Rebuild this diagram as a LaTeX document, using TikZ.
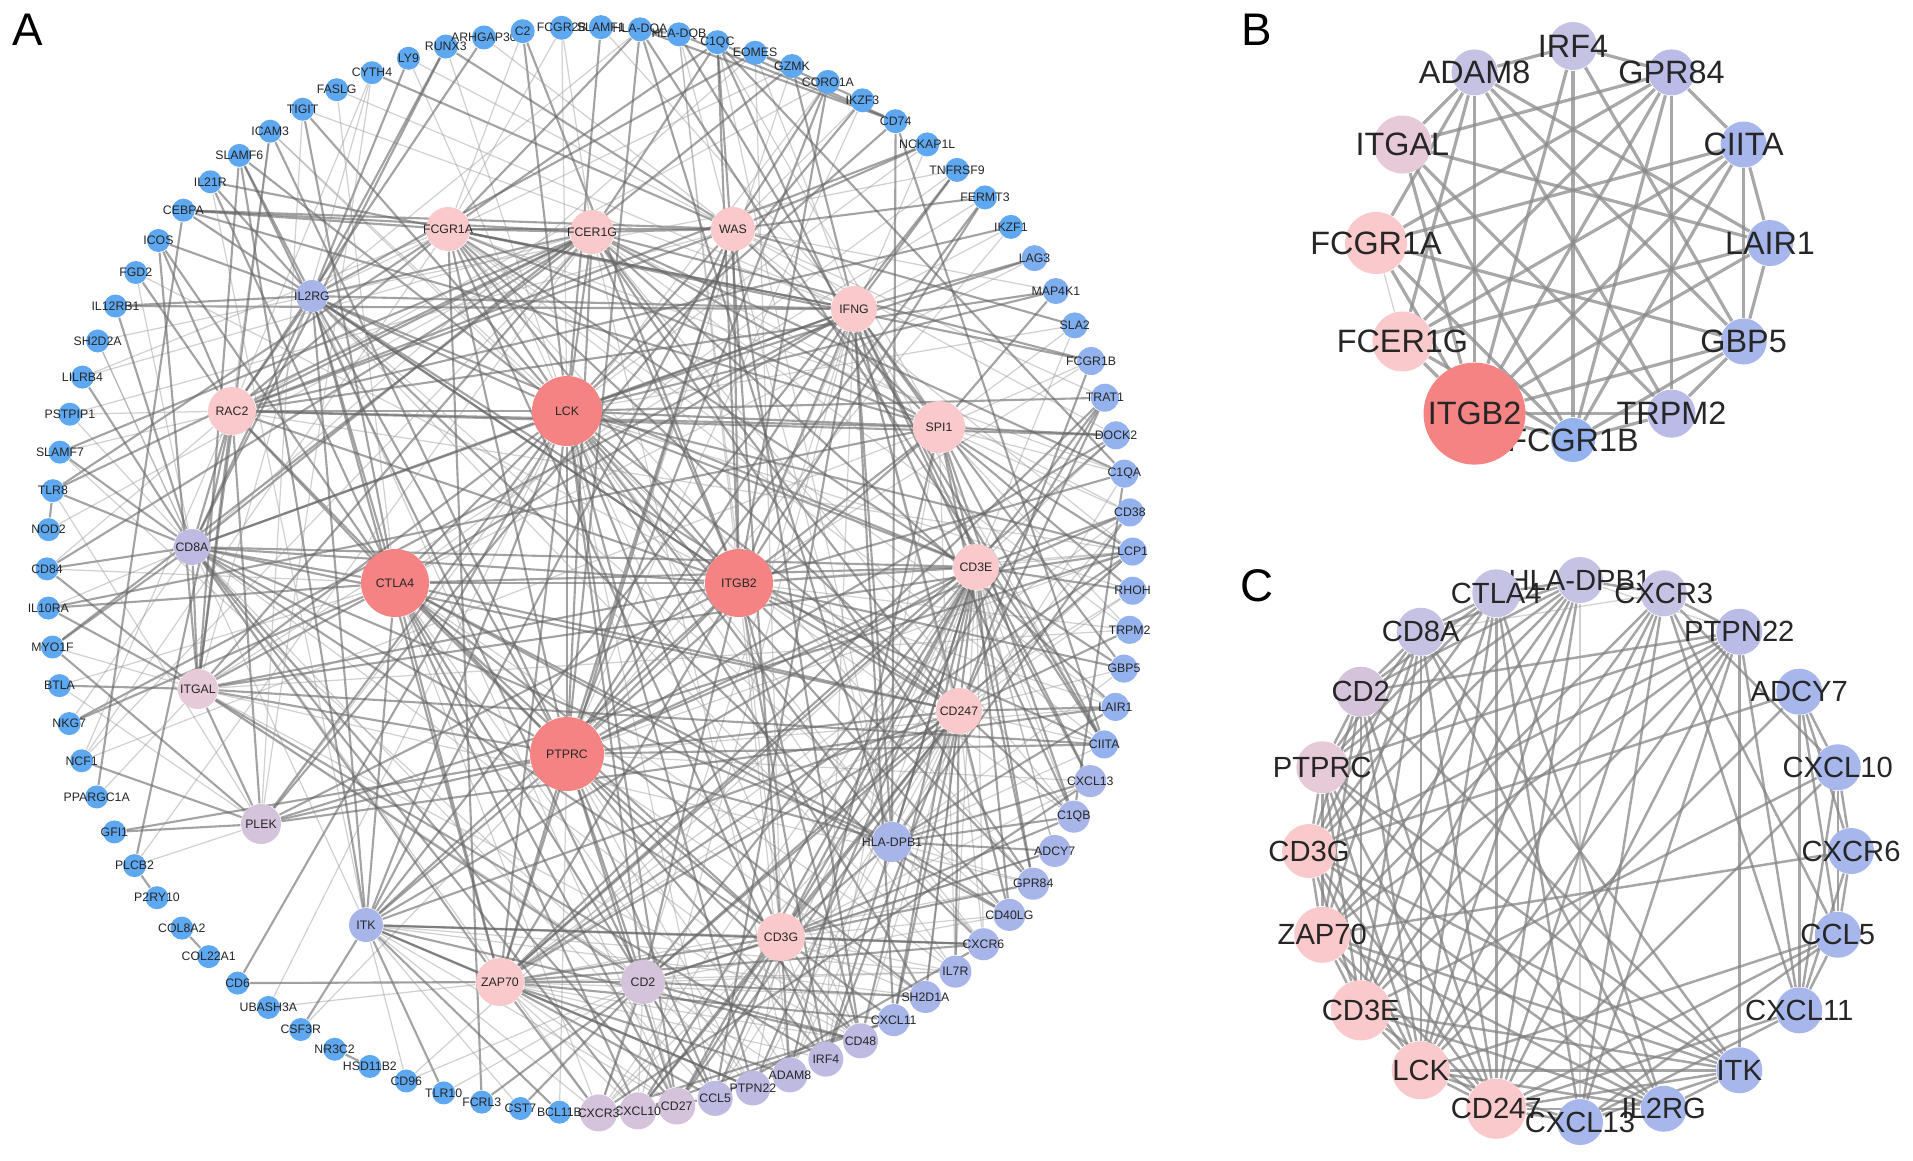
\documentclass[tikz,border=0pt]{standalone}
\usepackage{fontspec}
\setmainfont{Liberation Sans}
\usepackage{tikz}
\usetikzlibrary{positioning,calc}
\pgfdeclarelayer{bg}
\pgfsetlayers{bg,main}

\definecolor{blueA}{HTML}{5EA8F2}
\definecolor{blueB}{HTML}{7DAEF0}
\definecolor{blueM}{HTML}{94B2EE}
\definecolor{periA}{HTML}{A8B5E9}
\definecolor{periB}{HTML}{A8B7EB}
\definecolor{periL}{HTML}{BABCE7}
\definecolor{lavA}{HTML}{BEBAE2}
\definecolor{lavB}{HTML}{C5C2E3}
\definecolor{lilacA}{HTML}{D5C3DB}
\definecolor{mauveA}{HTML}{E7CAD7}
\definecolor{pinkA}{HTML}{F9C9CB}
\definecolor{hubred}{HTML}{F58383}

\newcommand{\fsA}{\fontsize{3.5pt}{4pt}\selectfont}
\newcommand{\fsB}{\fontsize{9.2pt}{10pt}\selectfont}
\newcommand{\fsC}{\fontsize{8.3pt}{9pt}\selectfont}
\newcommand{\fsP}{\fontsize{13pt}{15pt}\selectfont}

\tikzset{
  gene/.style={circle, draw=none, inner sep=0pt},
  lnk/.style={draw=black!60, line width=0.6pt, opacity=0.6},
  faint/.style={draw=black!40, line width=0.35pt, opacity=0.45},
  lnkB/.style={draw=black!45, line width=0.9pt, opacity=0.75},
  lnkC/.style={draw=black!50, line width=0.7pt, opacity=0.7},
  onringA/.style={at={({590+543*cos(105.4-(#1-1)*4.138)},{570-543*sin(105.4-(#1-1)*4.138)})}},
  onringB/.style={at={({1573+197*cos(#1)},{243-197*sin(#1)})}},
  onringC/.style={at={({1580+271*cos(#1)},{851-271*sin(#1)})}},
}

\begin{document}
\begin{tikzpicture}[x=0.01cm, y=-0.01cm, every label/.append style={text=black!85, inner sep=0pt}]
\useasboundingbox (0,0) rectangle (1913,1160);

% panel letters
\node[font=\fsP] (pA) at (28,30) {A};
\node[font=\fsP] (pB) at (1257,30) {B};
\node[font=\fsP] (pC) at (1257,586) {C};

% A: outer ring
\foreach \nm [count=\i from 1] in {RUNX3,ARHGAP30,C2,FCGR2B,SLAMF1,HLA-DQA,HLA-DQB,C1QC,EOMES,GZMK,CORO1A,IKZF3,CD74,NCKAP1L,TNFRSF9,FERMT3,IKZF1}
  \node[gene, fill=blueA, minimum size=0.24cm, onringA=\i, label={[font=\fsA]center:\nm}] (a\nm) {};
\foreach \nm [count=\i from 18] in {LAG3,MAP4K1,SLA2}
  \node[gene, fill=blueB, minimum size=0.26cm, onringA=\i, label={[font=\fsA]center:\nm}] (a\nm) {};
\foreach \nm [count=\i from 21] in {FCGR1B,TRAT1,DOCK2,C1QA,CD38,LCP1,RHOH,TRPM2,GBP5,LAIR1,CIITA}
  \node[gene, fill=blueM, minimum size=0.28cm, onringA=\i, label={[font=\fsA]center:\nm}] (a\nm) {};
\foreach \nm [count=\i from 32] in {CXCL13,C1QB,ADCY7,GPR84,CD40LG,CXCR6,IL7R,SH2D1A,CXCL11}
  \node[gene, fill=periA, minimum size=0.32cm, onringA=\i, label={[font=\fsA]center:\nm}] (a\nm) {};
\foreach \nm [count=\i from 41] in {CD48,IRF4,ADAM8,PTPN22,CCL5}
  \node[gene, fill=lavA, minimum size=0.35cm, onringA=\i, label={[font=\fsA]center:\nm}] (a\nm) {};
\foreach \nm [count=\i from 46] in {CD27,CXCL10,CXCR3}
  \node[gene, fill=lilacA, minimum size=0.37cm, onringA=\i, label={[font=\fsA]center:\nm}] (a\nm) {};
\foreach \nm [count=\i from 49] in {BCL11B,CST7,FCRL3,TLR10,CD96,HSD11B2,NR3C2,CSF3R,UBASH3A,CD6,COL22A1,COL8A2,P2RY10,PLCB2,GFI1,PPARGC1A,NCF1,NKG7,BTLA,MYO1F,IL10RA,CD84,NOD2,TLR8,SLAMF7,PSTPIP1,LILRB4,SH2D2A,IL12RB1,FGD2,ICOS,CEBPA,IL21R,SLAMF6,ICAM3,TIGIT,FASLG,CYTH4,LY9}
  \node[gene, fill=blueA, minimum size=0.23cm, onringA=\i, label={[font=\fsA]center:\nm}] (a\nm) {};

% A: inner nodes
\foreach \nm/\px/\py/\d/\cl in {FCER1G/592/232/44/pinkA, FCGR1A/448/229/44/pinkA, WAS/733/229/44/pinkA,
    IL2RG/312/296/32/periA, IFNG/854/309/46/pinkA, RAC2/232/411/48/pinkA, LCK/567/411/70/hubred,
    SPI1/939/427/52/pinkA, CD8A/192/547/36/lavA, CTLA4/395/583/68/hubred, ITGB2/739/583/68/hubred,
    CD3E/976/567/46/pinkA, ITGAL/198/689/40/mauveA, CD247/959/711/46/pinkA, PTPRC/567/754/74/hubred,
    PLEK/261/824/40/lilacA, HLA-DPB1/892/842/40/periA, ITK/366/925/34/periA, CD3G/781/937/48/pinkA,
    ZAP70/500/982/48/pinkA, CD2/643/982/44/lilacA}
  \node[gene, fill=\cl, minimum size=\d*0.01cm, label={[font=\fsA]center:\nm}] (a\nm) at (\px,\py) {};

% A: connectors
\begin{pgfonlayer}{bg}
\fill[white] (0,0) rectangle (1913,1160);
\foreach \s/\tl in {LCK/{CTLA4,ITGB2,PTPRC,CD3E,CD247,CD3G,ZAP70,CD2,ITK,IL2RG,CD8A,RAC2,SPI1,FCER1G,FCGR1A,WAS,IFNG,ITGAL,PLEK,HLA-DPB1},
    PTPRC/{CTLA4,ITGB2,CD3E,CD247,CD3G,ZAP70,CD2,ITK,IL2RG,CD8A,RAC2,SPI1,FCER1G,FCGR1A,WAS,IFNG,ITGAL,HLA-DPB1,PLEK},
    ITGB2/{CTLA4,CD3E,CD247,ZAP70,ITGAL,RAC2,SPI1,FCER1G,FCGR1A,WAS,IFNG,ITK,CD8A,IL2RG,PLEK,CD2},
    CTLA4/{CD3E,CD247,CD3G,ZAP70,CD2,IL2RG,CD8A,IFNG,ITGAL,HLA-DPB1,ITK,RAC2},
    CD3E/{CD247,CD3G,ZAP70,CD2,ITK,IL2RG,CD8A,HLA-DPB1,IFNG,SPI1},
    CD247/{CD3G,ZAP70,ITK,CD2,IL2RG,CD8A,FCER1G,IFNG},
    CD3G/{ZAP70,CD2,CD8A,HLA-DPB1,ITK},
    ZAP70/{CD2,ITK,IL2RG,CD8A,WAS},
    SPI1/{FCER1G,FCGR1A,RAC2,WAS,IFNG},
    FCER1G/{FCGR1A,WAS,RAC2,ITGAL,IL2RG},
    FCGR1A/{WAS,RAC2,IFNG},
    RAC2/{WAS,CD8A,ITGAL,PLEK,IL2RG},
    IFNG/{IL2RG,CD8A,HLA-DPB1},
    CD8A/{ITGAL,HLA-DPB1,IL2RG},
    ITGAL/{CD2,PLEK},
    ITK/{IL2RG,WAS}}
  \foreach \t in \tl \draw[lnk] (a\s) -- (a\t);
\foreach \s/\tl in {LCK/{SLAMF1,FCGR2B,C2,RUNX3,CD74,NCKAP1L,LAG3,DOCK2,LCP1,RHOH,PTPN22,CD48,SH2D1A,CXCR6,CD40LG,IL7R,CD27,CCL5,SLAMF6,ICAM3,TIGIT,LY9,TRAT1,SLA2,MAP4K1,UBASH3A,CD6},
    PTPRC/{HLA-DQA,GZMK,CORO1A,IKZF3,FERMT3,IKZF1,CD38,LAIR1,CIITA,CXCL13,IRF4,ADAM8,CD27,BCL11B,GFI1,CSF3R,ICAM3,LCP1,DOCK2,PTPN22,CD48,SH2D1A,CCL5},
    ITGB2/{C2,HLA-DQB,C1QC,NCKAP1L,FERMT3,FCGR1B,C1QA,TRPM2,GBP5,LAIR1,CIITA,C1QB,GPR84,ADAM8,IRF4,ICAM3,CEBPA,FGD2,CORO1A,LCP1,CD48},
    CTLA4/{CD40LG,CXCR3,CXCL10,IL7R,CD27,PTPN22,TIGIT,LAG3,ICOS,BTLA,IL21R,FASLG,NKG7,CD84,IL10RA,CCL5,SH2D1A,TNFRSF9},
    CD3E/{CD27,CXCR3,CXCL10,CCL5,PTPN22,SH2D1A,CD48,IL7R,CD40LG,CXCR6,TRAT1,SLA2,CD38,LCP1,RHOH,DOCK2,CXCL11,ADCY7,GPR84,C1QB,CXCL13,CD96,IRF4,ADAM8},
    CD247/{TRAT1,CD38,LAIR1,PTPN22,SH2D1A,CXCR3,CXCL10,CCL5,IRF4,ADAM8,CD27,LCP1,CXCL11,CD48,IL7R,CXCR6,CD40LG,GBP5,TRPM2,RHOH,FCGR1B,CIITA},
    CD3G/{CD27,PTPN22,CCL5,CXCR3,CXCL10,SH2D1A,CD48,IL7R,CXCR6,ADCY7,GPR84,CD40LG,CXCL11,EOMES,C1QC,HLA-DQB,TRAT1,IRF4,ADAM8,CXCL13,C1QB},
    ZAP70/{CD6,UBASH3A,LCP1,SH2D1A,PTPN22,CD27,CCL5,CD48,TRAT1,CD38,DOCK2,RHOH,CXCR6,IL7R,CXCR3,CXCL10,ADAM8,IRF4,CXCL11,GPR84},
    SPI1/{DOCK2,C1QA,C1QB,C1QC,CIITA,FCGR1B,CEBPA,IL7R,LCP1,TRPM2,RHOH,CD38,ADAM8,IRF4,GPR84,ADCY7,MAP4K1,SLA2,IL10RA,NCF1},
    IFNG/{GZMK,EOMES,LAG3,CXCL10,CXCL11,CXCR3,CCL5,CIITA,GBP5,IRF4,NKG7,TIGIT,IL21R,SLAMF1,IL12RB1,FASLG,CXCL13,CD40LG,TNFRSF9,IKZF1},
    WAS/{NCKAP1L,DOCK2,CORO1A,LCP1,CD48,MAP4K1,FERMT3,ARHGAP30,CYTH4,PSTPIP1,CEBPA,IKZF3,RUNX3,LY9,SLA2,TRAT1},
    FCER1G/{FCGR1B,FCGR2B,LAIR1,LILRB4,TLR8,NOD2,C1QA,C1QB,C1QC,CD38,MYO1F,NCF1,SLAMF7,PLCB2,GPR84,ADAM8,CEBPA,TRPM2,CD84},
    FCGR1A/{FCGR1B,FCGR2B,C1QC,C1QA,C1QB,CIITA,GBP5,LAIR1,IRF4,LILRB4,TLR8,NCF1,CEBPA,C2,HLA-DQA,GPR84,FCRL3},
    RAC2/{DOCK2,NCF1,ARHGAP30,CYTH4,NCKAP1L,PSTPIP1,PLCB2,LCP1,MAP4K1,CORO1A,FGD2,SLAMF7,ICOS,ICAM3,IKZF1,CD84},
    IL2RG/{IL21R,IL7R,IL12RB1,CD27,CXCR6,GZMK,RUNX3,SH2D2A,ICOS,TNFRSF9,SLAMF6,CEBPA,LY9,HLA-DQA,EOMES,CD40LG},
    CD8A/{SLAMF7,PSTPIP1,CD84,IL10RA,LILRB4,SH2D2A,TLR8,NKG7,GZMK,EOMES,CD27,CXCR3,CXCL10,CCL5,MYO1F,CD48,RUNX3,FGD2,IL12RB1},
    ITGAL/{ICAM3,MYO1F,BTLA,CD48,SLAMF6,FERMT3,CD84,PPARGC1A,IL10RA,ADAM8,IRF4,GPR84,ICOS,CYTH4,LCP1,TRPM2,CIITA},
    PLEK/{NCF1,PLCB2,LCP1,CORO1A,LAIR1,TLR8,MYO1F,BTLA,GFI1,TIGIT,IKZF3,CYTH4},
    HLA-DPB1/{HLA-DQA,HLA-DQB,CD74,CIITA,C1QB,C1QA,CXCL13,GBP5,LAIR1,IRF4,CD40LG,GPR84,ADCY7,CXCR6,CD38,C1QC},
    ITK/{CSF3R,SH2D1A,PTPN22,IL7R,CXCR6,CD27,TNFRSF9,CD96,TLR10,CXCR3,SLAMF6,SH2D2A,CD48,IL21R,BCL11B,CST7},
    CD2/{CD48,CD27,CCL5,PTPN22,SH2D1A,CD96,FCRL3,TLR10,CST7,CD6,LCP1,IL7R,CXCR3,CXCL10,ADCY7,CD40LG,SLAMF6,SLAMF7}}
  \foreach \t [count=\k] in \tl {
    \ifodd\k\relax \draw[lnk] (a\s) -- (a\t); \else \draw[faint] (a\s) -- (a\t); \fi
  }
% ring to ring
\foreach \s/\t in {PLCB2/P2RY10, COL8A2/COL22A1, NR3C2/HSD11B2, TLR8/NOD2, PPARGC1A/CEBPA,
    HLA-DQA/HLA-DQB, HLA-DQA/CD74, HLA-DQB/CD74, C1QC/C1QA, C1QC/C1QB, C1QA/C1QB,
    CIITA/CD74, CIITA/HLA-DQA, CIITA/HLA-DQB, CXCL10/CXCR3, CXCL11/CXCR3, CCL5/CXCR3,
    CXCL10/CXCL11, CCL5/CXCR6, CXCL13/CXCR3, GZMK/EOMES, EOMES/IKZF3, C1QC/CD74}
  \draw[lnk] (a\s) -- (a\t);
\end{pgfonlayer}

% B: nodes
\foreach \nm/\ang/\d/\cl in {IRF4/90/48/lavB, GPR84/60/46/periL, CIITA/30/46/periB, LAIR1/0/46/periB,
    GBP5/-30/46/periB, TRPM2/-60/48/periL, FCGR1B/-90/44/blueM, ITGB2/-120/102/hubred,
    FCER1G/-150/60/pinkA, FCGR1A/180/62/pinkA, ITGAL/150/58/mauveA, ADAM8/120/46/lavB}
  \node[gene, fill=\cl, minimum size=\d*0.01cm, onringB=\ang, label={[font=\fsB]center:\nm}] (b\nm) {};

% B: connectors
\begin{pgfonlayer}{bg}
\foreach \s/\tl in {IRF4/{ADAM8,GPR84,FCGR1B,ITGB2,GBP5},
    ADAM8/{ITGAL,FCER1G,ITGB2,LAIR1,GBP5,TRPM2,FCGR1A},
    GPR84/{CIITA,TRPM2,ITGAL,FCER1G,ITGB2,FCGR1A,FCGR1B},
    ITGAL/{ITGB2,LAIR1,TRPM2,FCGR1B},
    FCGR1A/{ITGB2,CIITA,GBP5,FCGR1B},
    FCER1G/{ITGB2,LAIR1,CIITA,FCGR1B},
    ITGB2/{TRPM2,GBP5,CIITA,LAIR1,FCGR1B},
    CIITA/{LAIR1,GBP5,FCGR1B},
    LAIR1/{GBP5},
    GBP5/{TRPM2,FCGR1B},
    TRPM2/{FCGR1B}}
  \foreach \t in \tl \draw[lnkB] (b\s) -- (b\t);
\draw[faint] (bFCGR1A) -- (bFCER1G);
\end{pgfonlayer}

% C: nodes
\foreach \nm/\ang/\d/\cl in {HLA-DPB1/90/46/lavB, CXCR3/72/46/lavB, PTPN22/54/46/periL, ADCY7/36/46/periB,
    CXCL10/18/46/periB, CXCR6/0/46/periB, CCL5/-18/46/periB, CXCL11/-36/46/periB, ITK/-54/46/periB,
    IL2RG/-72/46/periB, CXCL13/-90/46/periB, CD247/-108/60/pinkA, LCK/-126/58/pinkA, CD3E/-144/60/pinkA,
    ZAP70/-162/56/pinkA, CD3G/180/54/pinkA, PTPRC/162/52/mauveA, CD2/144/50/lilacA, CD8A/126/48/lavB,
    CTLA4/108/48/lavB}
  \node[gene, fill=\cl, minimum size=\d*0.01cm, onringC=\ang, label={[font=\fsC]center:\nm}] (c\nm) {};

% C: connectors
\begin{pgfonlayer}{bg}
\foreach \s/\t in {CD2/PTPRC, CD2/CD3G, CD2/ZAP70, CD2/CD3E, CD2/LCK, CD2/CD247,
    PTPRC/CD3G, PTPRC/ZAP70, PTPRC/CD3E, PTPRC/LCK, PTPRC/CD247,
    CD3G/ZAP70, CD3G/CD3E, CD3G/LCK, CD3G/CD247, ZAP70/CD3E, ZAP70/LCK, ZAP70/CD247,
    CD3E/LCK, CD3E/CD247, LCK/CD247,
    CD8A/CD2, CD8A/PTPRC, CD8A/CD3G, CD8A/ZAP70, CD8A/CD3E, CD8A/LCK, CD8A/CD247, CD8A/CTLA4, CD8A/ITK, CD8A/IL2RG,
    CTLA4/CD2, CTLA4/CD3E, CTLA4/LCK, CTLA4/CD247, CTLA4/PTPRC, CTLA4/CXCL13, CTLA4/IL2RG, CTLA4/CD3G,
    ITK/LCK, ITK/ZAP70, ITK/CD3E, ITK/CD247, ITK/CD3G, ITK/PTPRC, ITK/CD2, ITK/IL2RG, ITK/CXCL13,
    IL2RG/LCK, IL2RG/ZAP70, IL2RG/CD3E, IL2RG/CD247, IL2RG/PTPRC, IL2RG/CD3G,
    PTPN22/LCK, PTPN22/ZAP70, PTPN22/CD3E, PTPN22/CD247, PTPN22/PTPRC, PTPN22/CD3G, PTPN22/CD2,
    PTPN22/CXCL13, PTPN22/CXCL11, PTPN22/ITK,
    HLA-DPB1/CD8A, HLA-DPB1/CD2, HLA-DPB1/CD3G, HLA-DPB1/CD3E, HLA-DPB1/LCK, HLA-DPB1/CD247,
    HLA-DPB1/CTLA4, HLA-DPB1/PTPRC, HLA-DPB1/CXCR3, HLA-DPB1/ZAP70,
    CXCR3/CXCL10, CXCR3/CXCL11, CXCR3/CCL5, CXCR3/CXCL13, CXCR3/CD247, CXCR3/LCK, CXCR3/CD3E,
    CXCR3/PTPN22, CXCR3/ZAP70,
    ADCY7/CXCL10, ADCY7/CXCR6, ADCY7/CCL5, ADCY7/CXCL11, ADCY7/LCK, ADCY7/CD3G,
    CXCL10/CXCR6, CXCL10/CCL5, CXCL10/CXCL11, CXCL10/CD247, CXCL10/CD3E,
    CXCR6/CCL5, CXCR6/CXCL11, CXCR6/ZAP70, CCL5/CXCL11, CCL5/CD247, CCL5/LCK, CCL5/CXCL13,
    CXCL11/CXCL13, CXCL11/CD247, CXCL13/CD247, CXCL13/LCK}
  \draw[lnkC] (c\s) -- (c\t);
\foreach \s/\t in {HLA-DPB1/CXCL13, HLA-DPB1/PTPN22, CD8A/CXCR3}
  \draw[faint] (c\s) -- (c\t);
\end{pgfonlayer}
\end{tikzpicture}
\end{document}
